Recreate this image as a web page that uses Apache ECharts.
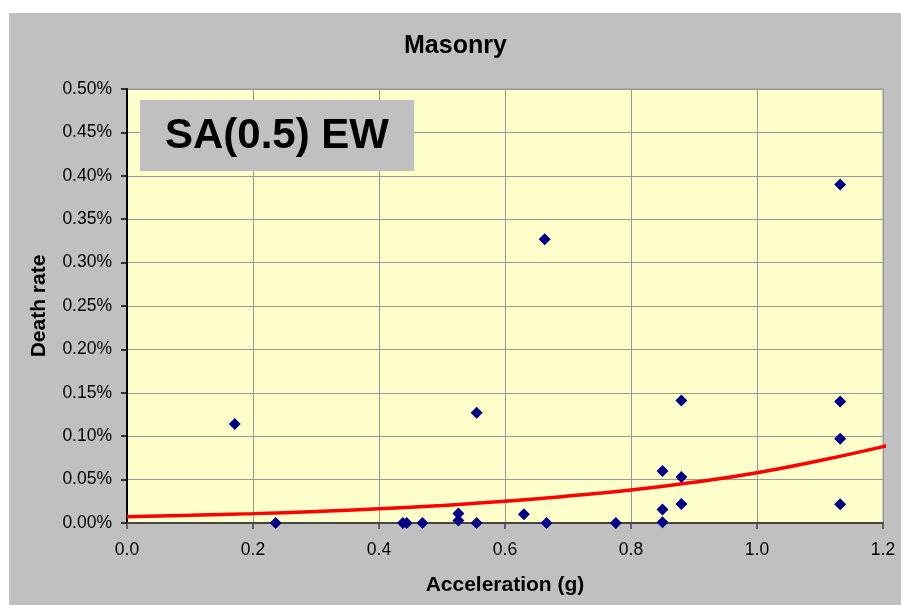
<!DOCTYPE html>
<html>
<head>
<meta charset="utf-8">
<script src="https://cdn.jsdelivr.net/npm/echarts@6/dist/echarts.min.js"></script>
<style>
  html, body { margin: 0; padding: 0; background: #ffffff; }
  #chart { width: 901px; height: 605px; }
</style>
</head>
<body>
<div id="chart"></div>
<script>
// observed points: acceleration (g) and death rate (%)
var accel = [0.171, 0.236, 0.438, 0.444, 0.469, 0.526, 0.526, 0.555, 0.555, 0.630, 0.663, 0.666,
	0.776, 0.850, 0.850, 0.850, 0.880, 0.880, 0.880, 1.132, 1.132, 1.132, 1.132];
var deathRate = [0.114, 0, 0, 0, 0, 0.011, 0.003, 0.127, 0, 0.010, 0.327, 0,
	0, 0.060, 0.0155, 0.001, 0.141, 0.053, 0.022, 0.390, 0.140, 0.097, 0.0217];

// trend line
var trendX = [0, 0.1, 0.2, 0.3, 0.4, 0.5, 0.6, 0.7, 0.8, 0.9, 1.0, 1.1, 1.2, 1.21];
var trendY = [0.0071, 0.0088, 0.0108, 0.0133, 0.0165, 0.0203, 0.025, 0.031, 0.038, 0.047, 0.058, 0.072, 0.088, 0.0903];

var xTicks = [0, 0.2, 0.4, 0.6, 0.8, 1.0, 1.2];
var yTicks = [0, 0.05, 0.10, 0.15, 0.20, 0.25, 0.30, 0.35, 0.40, 0.45, 0.50];

var font = 'Liberation Sans, Arial, sans-serif';

var points = accel.map(function (x, i) { return [x, deathRate[i]]; });
var trend = trendX.map(function (x, i) { return [x, trendY[i]]; });

var myChart = echarts.init(document.getElementById('chart'));
var option = {
	backgroundColor: '#ffffff',
	animation: false,
	title: {
		text: 'Masonry',
		left: 404,
		top: 34,
		padding: 0,
		textStyle: { fontFamily: font, fontSize: 25, fontWeight: 'bold', color: '#000' }
	},
	graphic: [
		{
			type: 'rect', z: -10, silent: true,
			shape: { x: 9, y: 13, width: 892, height: 592 },
			style: { fill: '#C0C0C0' }
		},
		{
			type: 'rect', z: 100, silent: true,
			shape: { x: 140, y: 100, width: 274, height: 71 },
			style: { fill: '#C0C0C0' }
		},
		{
			type: 'text', z: 101, silent: true,
			x: 277, y: 136,
			style: {
				text: 'SA(0.5) EW', fill: '#000',
				font: 'bold 42px ' + font,
				align: 'center', verticalAlign: 'middle'
			}
		}
	],
	grid: {
		left: 127, top: 89, right: 18, bottom: 82,
		show: true, backgroundColor: '#FFFFCC', borderColor: '#999999', borderWidth: 1
	},
	xAxis: {
		type: 'value',
		min: xTicks[0], max: xTicks[xTicks.length - 1], interval: 0.2,
		name: 'Acceleration (g)', nameLocation: 'middle', nameGap: 52,
		nameTextStyle: { fontFamily: font, fontSize: 21, fontWeight: 'bold', color: '#000' },
		axisLine: { show: true, onZero: false, lineStyle: { color: '#444', width: 2 } },
		axisTick: { show: true, inside: false, length: 6, lineStyle: { color: '#444', width: 1.5 } },
		axisLabel: {
			margin: 18, fontFamily: font, fontSize: 17.5, color: '#000',
			formatter: function (v) { return v.toFixed(1); }
		},
		splitLine: { show: true, lineStyle: { color: '#999999', width: 1 } }
	},
	yAxis: {
		type: 'value',
		min: yTicks[0], max: yTicks[yTicks.length - 1], interval: 0.05,
		name: 'Death rate', nameLocation: 'middle', nameGap: 77,
		nameTextStyle: { fontFamily: font, fontSize: 21, fontWeight: 'bold', color: '#000' },
		axisLine: { show: true, lineStyle: { color: '#000', width: 2 } },
		axisTick: { show: true, inside: false, length: 6, lineStyle: { color: '#000', width: 1.5 } },
		axisLabel: {
			margin: 15, fontFamily: font, fontSize: 17.5, color: '#000',
			formatter: function (v) { return v.toFixed(2) + '%'; }
		},
		splitLine: { show: true, lineStyle: { color: '#999999', width: 1 } }
	},
	series: [
		{
			type: 'scatter',
			data: points,
			symbol: 'diamond',
			symbolSize: 12,
			clip: false,
			z: 3,
			itemStyle: { color: '#000080', opacity: 1 }
		},
		{
			type: 'line',
			data: trend,
			smooth: true,
			showSymbol: false,
			symbol: 'none',
			clip: false,
			z: 4,
			lineStyle: { color: '#FF0000', width: 3.5 }
		}
	]
};
myChart.setOption(option);
</script>
</body>
</html>
